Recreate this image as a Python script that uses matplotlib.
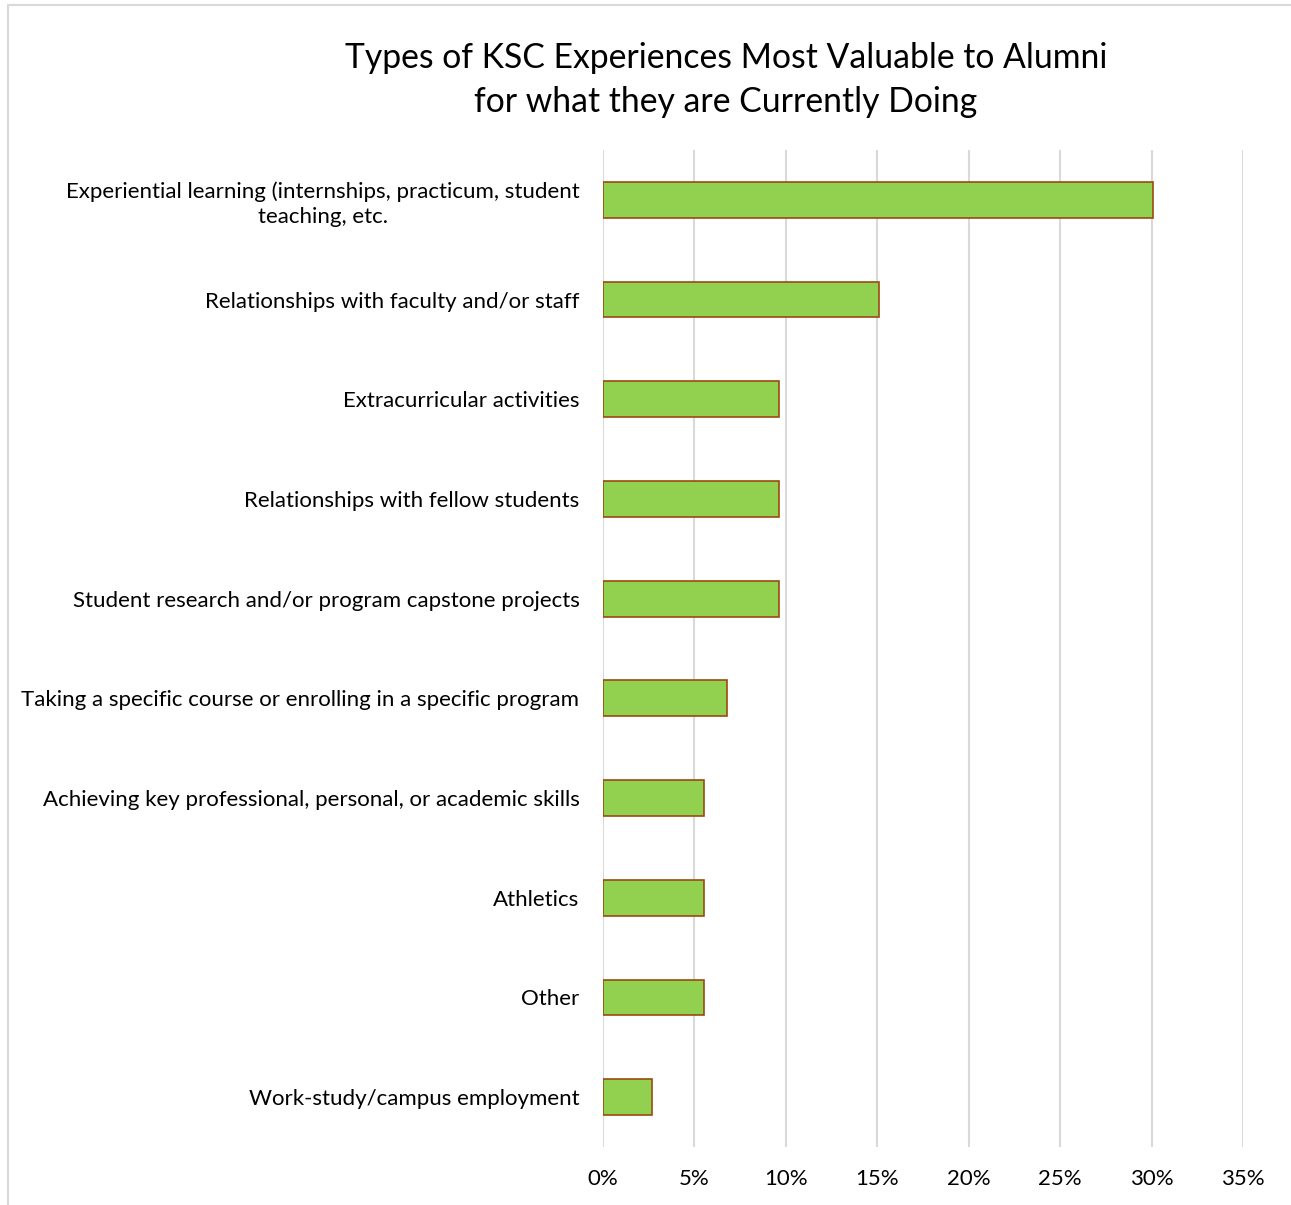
import matplotlib
matplotlib.use("Agg")
import matplotlib.pyplot as plt
from matplotlib.patches import Rectangle
from matplotlib.ticker import FuncFormatter

CATEGORIES = [
    "Experiential learning (internships, practicum, student\nteaching, etc.",
    "Relationships with faculty and/or staff",
    "Extracurricular activities",
    "Relationships with fellow students",
    "Student research and/or program capstone projects",
    "Taking a specific course or enrolling in a specific program",
    "Achieving key professional, personal, or academic skills",
    "Athletics",
    "Other",
    "Work-study/campus employment",
]
VALUES = [30.1, 15.1, 9.6, 9.6, 9.6, 6.8, 5.5, 5.5, 5.5, 2.7]
X_TICKS = [0, 5, 10, 15, 20, 25, 30, 35]
TITLE = "Types of KSC Experiences Most Valuable to Alumni\nfor what they are Currently Doing"

BAR_COLOR = "#92d050"
EDGE_COLOR = "#9c4a10"
GRID_COLOR = "#d9d9d9"
TEXT_COLOR = "#000000"

plt.rcParams["font.family"] = ["Lato", "DejaVu Sans"]

W, H = 1291, 1205
fig = plt.figure(figsize=(W / 100, H / 100), dpi=100)

# light chart-area border, only top and left visible (cut off like the reference)
fig.patches.append(Rectangle((8 / W, -0.05), 1.1, 1.05 - 5 / H, transform=fig.transFigure,
                             fill=False, edgecolor="#d9d9d9", linewidth=1.5))

ax = fig.add_axes([603 / W, 1 - 1147 / H, (1243 - 603) / W, (1147 - 150) / H])

y = list(range(len(CATEGORIES)))
ax.barh(y, VALUES, height=0.36, color=BAR_COLOR, edgecolor=EDGE_COLOR,
        linewidth=1.2, zorder=3)

ax.set_xlim(0, 35)
ax.set_ylim(len(CATEGORIES) - 0.5, -0.5)
ax.set_xticks(X_TICKS)
ax.xaxis.set_major_formatter(FuncFormatter(lambda v, _: f"{v:.0f}%"))
ax.set_yticks(y)
ax.set_yticklabels(CATEGORIES, multialignment="center", linespacing=1.3)

ax.grid(axis="x", color=GRID_COLOR, linewidth=1.5, zorder=0)
for s in ax.spines.values():
    s.set_visible(False)
ax.tick_params(axis="both", length=0, labelsize=16, colors=TEXT_COLOR)
ax.tick_params(axis="y", pad=17)
ax.tick_params(axis="x", pad=16)

fig.text(726 / W, 1 - 80 / H, TITLE, ha="center", va="center",
         fontsize=24.3, color=TEXT_COLOR, linespacing=1.5)

fig.savefig("out.png", dpi=100)
